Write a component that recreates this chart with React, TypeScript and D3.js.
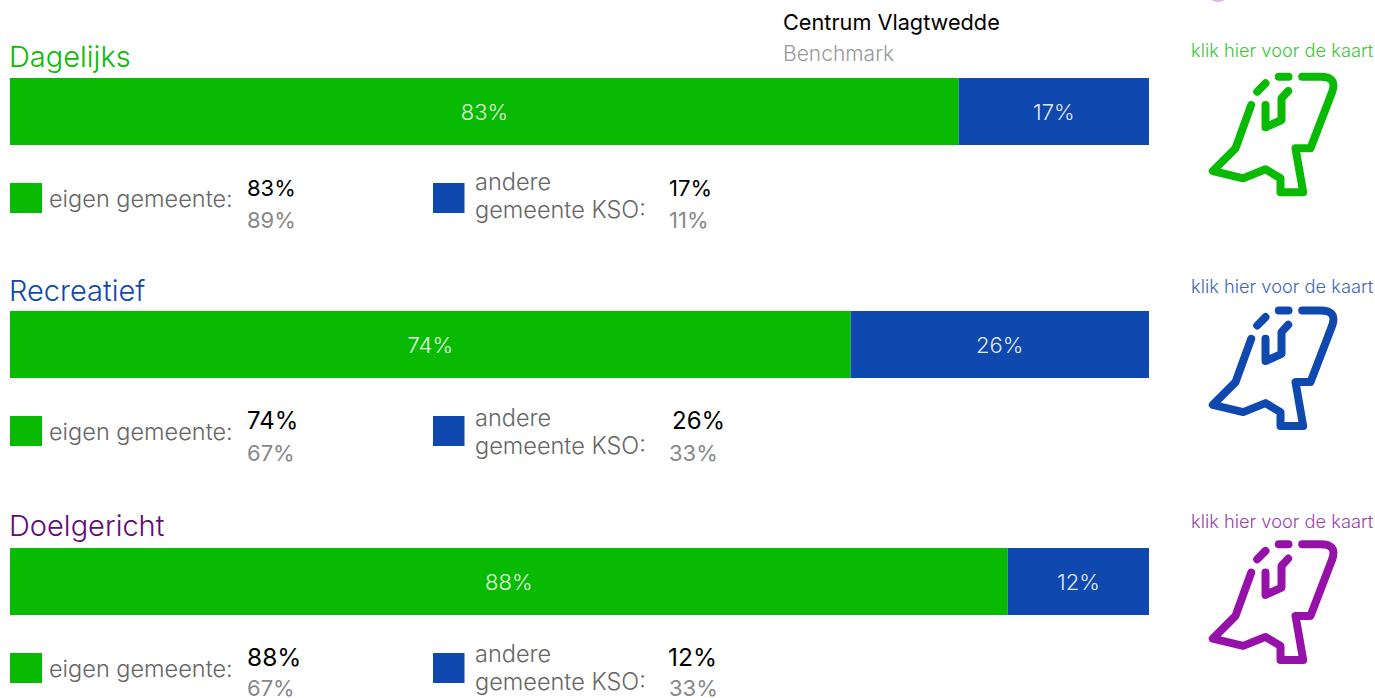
import React from "react";
import * as d3 from "d3";

const rowNames = ["Dagelijks", "Recreatief", "Doelgericht"];
const ownShare = [83.3, 73.8, 87.6];
const ownLabels = ["83%", "74%", "88%"];
const otherLabels = ["17%", "26%", "12%"];
const ownBenchmark = ["89%", "67%", "67%"];
const otherBenchmark = ["11%", "33%", "33%"];
const linkText = "klik hier voor de kaart";

const FONT = "Inter, 'Open Sans', sans-serif";
const GREEN = "#08bb02";
const BLUE = "#0f48af";
const headColors = [GREEN, BLUE, "#640a78"];
const linkColors = ["#3cc738", "#3f68ba", "#9a45ac"];
const iconColors = [GREEN, BLUE, "#9610aa"];
const barTops = [78, 311, 548];
const headBase = [67, 301, 536];
const linkBase = [57, 293, 528];
const iconDy = [0, 233.8, 467.6];
const swatchTops = [183, 416, 653];
const otherValueX = [669, 672, 668];
const valueSizes = [[22, 22], [24, 22], [24.5, 22]];
const andereOffset = [7, 10, 8.5];
const benchOffset = [45, 45, 43];

const x = d3.scaleLinear().domain([0, 100]).range([10, 1149]);

const line = d3.line();
const outline: [number, number][] = [
  [1251.2, 105], [1235.5, 148.3], [1212.8, 171], [1243.2, 178.3], [1265.5, 169.3], [1280.5, 178.3],
  [1280.5, 192.3], [1303.2, 192.3], [1295.5, 148.3], [1310.5, 148.3], [1332.2, 91.7],
];
const inner: [number, number][] = [[1265.5, 105], [1265.5, 127.3], [1281.5, 120], [1281.5, 98.3], [1288.2, 91]];
const dash1: [number, number][] = [[1278.8, 76.7], [1288.5, 76.7]];
const dash2: [number, number][] = [[1257.2, 91.7], [1265.5, 83.3]];
const outlinePath = line(outline) + " Q1337.5,76.7 1320.5,76.7 L1302.2,76.7";

function Icon({ color, dy }: { color: string; dy: number }) {
  const common = { fill: "none", stroke: color, strokeWidth: 8, strokeLinecap: "round" as const, strokeLinejoin: "round" as const };
  return (
    <g transform={`translate(0,${dy})`}>
      <path d={outlinePath} {...common} />
      <path d={line(inner)!} {...common} />
      <path d={line(dash1)!} {...common} />
      <path d={line(dash2)!} {...common} />
    </g>
  );
}

export default function App() {
  return (
    <svg width={1375} height={698} style={{ position: "fixed", left: 0, top: 0, background: "#fff" }} fontFamily={FONT} fontWeight={300}>
      <ellipse cx={1218} cy={-1} rx={7} ry={3} fill="#e3b5ea" />
      <text x={783} y={30} fontSize={21.7} fontWeight={400} fill="#000">Centrum Vlagtwedde</text>
      <text x={783} y={61} fontSize={21} fill="#999">Benchmark</text>
      {rowNames.map((name, i) => {
        const top = barTops[i];
        const sw = swatchTops[i];
        const mid = x(ownShare[i]);
        return (
          <g key={name}>
            <text x={9} y={headBase[i]} fontSize={29} fill={headColors[i]}>{name}</text>
            <rect x={x(0)} y={top} width={mid - x(0)} height={67} fill={GREEN} />
            <rect x={mid} y={top} width={x(100) - mid} height={67} fill={BLUE} />
            <text x={(x(0) + mid) / 2} y={top + 42} fontSize={22} textAnchor="middle" fill="#fff" fillOpacity={0.9}>{ownLabels[i]}</text>
            <text x={(mid + x(100)) / 2} y={top + 42} fontSize={22} textAnchor="middle" fill="#fff" fillOpacity={0.9}>{otherLabels[i]}</text>

            <rect x={10} y={sw} width={32} height={30} fill={GREEN} />
            <text x={49} y={sw + 24} fontSize={23.5} fill="#666">eigen gemeente:</text>
            <text x={247} y={sw + 13} fontSize={valueSizes[i][0]} fontWeight={400} fill="#000">{ownLabels[i]}</text>
            <text x={247} y={sw + benchOffset[i]} fontSize={valueSizes[i][1]} fill="#888" fontWeight={400}>{ownBenchmark[i]}</text>

            <rect x={433} y={sw} width={31.5} height={30} fill={BLUE} />
            <text x={475} y={sw + andereOffset[i]} fontSize={23.5} fill="#666">andere</text>
            <text x={475} y={sw + andereOffset[i] + 28} fontSize={23.5} fill="#666">gemeente KSO:</text>
            <text x={otherValueX[i]} y={sw + 13} fontSize={valueSizes[i][0]} fontWeight={400} fill="#000">{otherLabels[i]}</text>
            <text x={669} y={sw + benchOffset[i]} fontSize={valueSizes[i][1]} fill="#888" fontWeight={400}>{otherBenchmark[i]}</text>

            <text x={1191} y={linkBase[i]} fontSize={18.3} fill={linkColors[i]}>{linkText}</text>
            <Icon color={iconColors[i]} dy={iconDy[i]} />
          </g>
        );
      })}
    </svg>
  );
}
